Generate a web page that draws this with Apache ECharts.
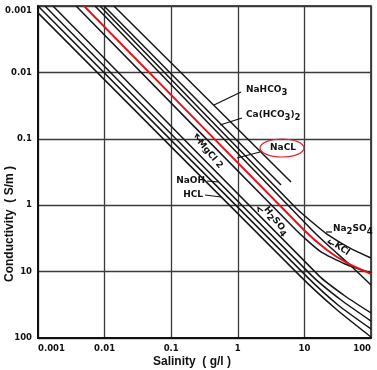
<!DOCTYPE html>
<html><head><meta charset="utf-8">
<script src="https://cdn.jsdelivr.net/npm/echarts@6/dist/echarts.min.js"></script>
<style>html,body{margin:0;padding:0;background:#fff}#c{width:377px;height:370px}</style>
</head><body><div id="c"></div>
<script>
// tick labels
const xTickLabels = ['0.001', '0.01', '0.1', '1', '10', '100'];
const yTickLabels = ['0.001', '0.01', '0.1', '1', '10', '100'];

// [salinity g/l, conductivity S/m]
const HCL     = [[0.001,0.00127],[8.59,11.6],[29.8,36.6],[100,96.6]];
const NaOH    = [[0.001,0.001],[10.6,11.6],[32,31.8],[100,73.1]];
const acid3   = [[0.00127,0.001],[13,11.6],[35.5,26.8],[100,55.5]];
const H2SO4   = [[0.00168,0.001],[16.6,11.6],[40.7,23.3],[100,42]];
const MgCl2   = [[0.00373,0.001],[7.48,2.36],[17.1,4.9],[40.7,7.69],[100,10.5]];
const NaCl    = [[0.00491,0.001],[9.86,2.36],[21.8,4.73],[43.7,7.41],[100,10.9]];
const KCl     = [[0.00718,0.001],[13,2.36],[24.2,4.27],[48.4,7.96],[100,15.9]];
const Na2SO4  = [[0.00853,0.001],[7.48,1.1],[13,1.79],[21.8,2.72],[48.4,4.42],[100,6.24]];
const CaHCO32 = [[0.0098,0.001],[4.46,0.497]];
const NaHCO3  = [[0.0138,0.001],[6.3,0.448]];

const chart = echarts.init(document.getElementById('c'), null, {renderer: 'canvas'});

const black = '#161616';
function mk(name, data, color, width) {
  return {
    name: name, type: 'line', data: data, showSymbol: false, symbol: 'none',
    smooth: 0.2, clip: true, silent: true,
    lineStyle: {color: color || black, width: width || 1.5},
    z: color ? 5 : 3
  };
}

const tf = 'DejaVu Sans';
function txt(x, y, text, opts) {
  opts = opts || {};
  return {
    type: 'text', x: x, y: y, rotation: opts.rot || 0, z: 20,
    style: {
      text: text, fill: '#111', font: 'bold 9px "DejaVu Sans"',
      align: opts.align || 'left', verticalAlign: 'middle',
      rich: {
        n: {fontFamily: tf, fontWeight: 'bold', fontSize: 9, fill: '#111'},
        s: {fontFamily: tf, fontWeight: 'bold', fontSize: 8.5, fill: '#111', padding: [6, 0, 0, 0]}
      }
    }
  };
}
function seg(pts, w) {
  return {type: 'polyline', z: 20, shape: {points: pts}, style: {stroke: '#111', lineWidth: w || 1.2, fill: null}};
}

const graphics = [
  txt(246, 90, '{n|NaHCO}{s|3}'),
  seg([[241, 92], [214, 105]]),
  txt(246, 115, '{n|Ca(HCO}{s|3}{n|)}{s|2}'),
  seg([[242, 118], [220, 125]]),
  txt(283, 148, 'NaCL', {align: 'center'}),
  {type: 'ellipse', z: 20, shape: {cx: 282, cy: 148, rx: 22, ry: 9}, style: {fill: null, stroke: '#e3262b', lineWidth: 1.2}},
  seg([[260, 152], [237, 158]]),
  txt(210, 154, 'MgCl 2', {align: 'center', rot: -0.87}),
  seg([[201, 142], [197.5, 138.5], [197, 134]]),
  seg([[195, 137.5], [197, 134], [199.5, 136.5]]),
  txt(205, 181, 'NaOH', {align: 'right'}),
  seg([[207, 181], [219, 182]]),
  txt(203, 195, 'HCL', {align: 'right'}),
  seg([[205, 195], [221, 197]]),
  txt(276, 221, '{n|H}{s|2}{n|SO}{s|4}', {align: 'center', rot: -0.9}),
  seg([[263, 211], [258, 207.5], [258.5, 212]]),
  txt(333, 229, '{n|Na}{s|2}{n|SO}{s|4}'),
  seg([[326, 232], [332, 232]]),
  txt(342, 249, 'KCl', {align: 'center', rot: -0.6}),
  seg([[334, 245], [328, 242]]),
  seg([[330.5, 240], [328, 242], [331, 244.5]]),
  {type: 'text', x: 192, y: 362, z: 20, style: {text: 'Salinity  ( g/l )', font: 'bold 12px "Liberation Sans"', fill: '#111', align: 'center', verticalAlign: 'middle'}},
  {type: 'text', x: 10, y: 224, rotation: Math.PI / 2, z: 20, style: {text: 'Conductivity  ( S/m )', font: 'bold 12px "Liberation Sans"', fill: '#111', align: 'center', verticalAlign: 'middle'}}
];

const axisLabelStyle = {fontFamily: tf, fontWeight: 'bold', fontSize: 8.5, color: '#111'};

chart.setOption({
  animation: false,
  backgroundColor: '#fff',
  grid: {left: 38, right: 6, top: 6, bottom: 32, show: true, borderColor: '#111', borderWidth: 1.5, containLabel: false},
  xAxis: {
    type: 'log', logBase: 10, min: 0.001, max: 100,
    axisLine: {show: true, onZero: false, lineStyle: {color: '#111', width: 2}},
    axisTick: {show: false},
    splitLine: {show: true, lineStyle: {color: '#3a3a3a', width: 1.3}},
    axisLabel: Object.assign({margin: 6, alignMinLabel: 'left', alignMaxLabel: 'right',
      formatter: function (v, i) { return xTickLabels[i]; }}, axisLabelStyle)
  },
  yAxis: {
    type: 'log', logBase: 10, min: 0.001, max: 100, inverse: true,
    axisLine: {show: true, onZero: false, lineStyle: {color: '#111', width: 2}},
    axisTick: {show: false},
    splitLine: {show: true, lineStyle: {color: '#3a3a3a', width: 1.3}},
    axisLabel: Object.assign({margin: 6, verticalAlignMinLabel: 'top',
      formatter: function (v, i) { return yTickLabels[i]; }}, axisLabelStyle)
  },
  series: [
    mk('HCL', HCL), mk('NaOH', NaOH), mk('acid3', acid3), mk('H2SO4', H2SO4),
    mk('MgCl2', MgCl2), mk('KCl', KCl), mk('Na2SO4', Na2SO4),
    mk('Ca(HCO3)2', CaHCO32), mk('NaHCO3', NaHCO3),
    mk('NaCl', NaCl, '#e3141b', 2)
  ],
  graphic: graphics
});
</script></body></html>
